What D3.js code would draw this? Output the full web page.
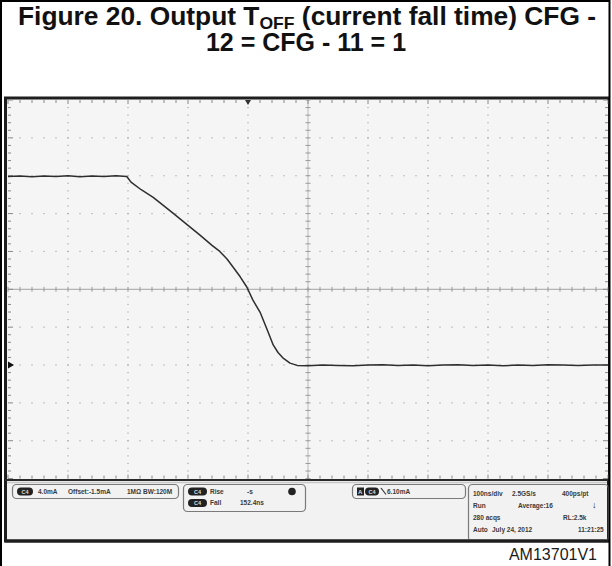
<!DOCTYPE html>
<html><head><meta charset="utf-8">
<script src="https://cdn.jsdelivr.net/npm/d3@7"></script>
<style>html,body{margin:0;padding:0;background:#fff;}svg{display:block;}</style>
</head><body>
<svg id="c" width="612" height="566"></svg>
<script>
// ---- data (time in ns, current in divisions, 4.0 mA/div) ----
const timeNs = [-500,-480,-460,-440,-420,-400,-380,-360,-340,-320,-302,-295,-278,-258,-225,-200,-180,-160,-147,-135,-125,-113,-102,-92,-80,-68,-58,-50,-42,-30,-18,
  0,25,50,75,100,125,150,175,200,225,250,275,300,325,350,375,400,425,450,475,500];
const currentDiv = [2.98,2.99,2.97,2.99,2.98,3.0,2.97,2.99,2.98,3.0,2.98,2.83,2.63,2.43,2.01,1.69,1.43,1.16,1.0,0.80,0.59,0.33,0.06,-0.28,-0.60,-1.07,-1.47,-1.67,-1.81,-1.95,-2.01,
  -2.02,-2.0,-2.01,-2.02,-2.0,-1.99,-2.01,-2.0,-2.02,-2.0,-1.99,-2.01,-2.0,-2.02,-2.0,-2.01,-1.99,-2.0,-2.01,-2.0,-2.0];
const xTicksNs = d3.range(-500, 501, 100);
const yTicksDiv = d3.range(-5, 6, 1);

const titleLine1a = "Figure 20. Output T";
const titleSub = "OFF";
const titleLine1b = " (current fall time) CFG -";
const titleLine2 = "12 = CFG - 11 = 1";
const figureId = "AM13701V1";

const chLabel = "C4";
const box1Texts = [["4.0mA",38],["Offset:-1.5mA",68],["1MΩ",127],["BW:120M",143]];
const measRows = [["Rise","-s"],["Fall","152.4ns"]];
const trigLevel = "6.10mA";
const infoRows = [
  [["100ns/div",473],["2.5GS/s",512],["400ps/pt",562]],
  [["Run",473],["Average:16",518],["↓",592]],
  [["280 acqs",473],["RL:2.5k",563]],
  [["Auto",473],["July 24, 2012",492],["11:21:25",578]]
];

// ---- drawing ----
const svg = d3.select("#c");
const FONT = "'Liberation Sans', Arial, Helvetica, sans-serif";

svg.append("rect").attr("width",612).attr("height",566).attr("fill","#fff");

// title
const t1 = svg.append("text").attr("x",18).attr("y",25).attr("text-anchor","start")
  .attr("font-family",FONT).attr("font-weight","bold").attr("font-size",25.5).attr("fill","#111")
  .attr("textLength",578).attr("lengthAdjust","spacingAndGlyphs");
t1.append("tspan").text(titleLine1a);
t1.append("tspan").attr("font-size",17).attr("dy",4).text(titleSub);
t1.append("tspan").attr("dy",-4).text(titleLine1b);
svg.append("text").attr("x",306).attr("y",51).attr("text-anchor","middle")
  .attr("font-family",FONT).attr("font-weight","bold").attr("font-size",25).attr("fill","#111")
  .text(titleLine2);

// scope screen
svg.append("rect").attr("x",5.5).attr("y",98).attr("width",603).attr("height",443)
  .attr("fill","#f2f2f2").attr("stroke","#1e1e1e").attr("stroke-width",3);

const x = d3.scaleLinear().domain([-500,500]).range([8,608]);
const y = d3.scaleLinear().domain([-5,5]).range([478.6,100]);

svg.append("rect").attr("x",8).attr("y",100).attr("width",600).attr("height",378.6).attr("fill","#f5f5f5");

const g = svg.append("g");
const subX = d3.range(-500, 501, 20);
const subY = d3.range(-50, 51, 2).map(v => v/10);

yTicksDiv.filter(v => v!==0 && Math.abs(v)!==5).forEach(v => {
  g.selectAll(null).data(subX.filter(s => Math.abs(s)!==500)).join("rect")
    .attr("x", d => x(d)-0.6).attr("y", y(v)-0.6).attr("width",1.2).attr("height",1.2).attr("fill","#a8a8a8");
});
xTicksNs.filter(v => v!==0 && Math.abs(v)!==500).forEach(v => {
  g.selectAll(null).data(subY.filter(s => Math.abs(s)!==5)).join("rect")
    .attr("x", x(v)-0.6).attr("y", d => y(d)-0.6).attr("width",1.2).attr("height",1.2).attr("fill","#a8a8a8");
});
g.append("line").attr("x1",x(-500)).attr("x2",x(500)).attr("y1",y(0)).attr("y2",y(0)).attr("stroke","#b4b4b4").attr("stroke-width",1.2);
g.append("line").attr("x1",x(0)).attr("x2",x(0)).attr("y1",y(-5)).attr("y2",y(5)).attr("stroke","#c4c4c4").attr("stroke-width",1.2);
g.selectAll(null).data(subX).join("line")
  .attr("x1",d=>x(d)).attr("x2",d=>x(d)).attr("y1",y(0)-2.5).attr("y2",y(0)+2.5).attr("stroke","#999").attr("stroke-width",1);
g.selectAll(null).data(subY).join("line")
  .attr("y1",d=>y(d)).attr("y2",d=>y(d)).attr("x1",x(0)-2.5).attr("x2",x(0)+2.5).attr("stroke","#999").attr("stroke-width",1);
g.selectAll(null).data(subX).join("line")
  .attr("x1",d=>x(d)).attr("x2",d=>x(d)).attr("y1",y(5)).attr("y2",d=> y(5)+ (d%100===0?4:3)).attr("stroke","#888");
g.selectAll(null).data(subX).join("line")
  .attr("x1",d=>x(d)).attr("x2",d=>x(d)).attr("y1",y(-5)).attr("y2",d=> y(-5)-(d%100===0?4:3)).attr("stroke","#888");
g.selectAll(null).data(subY).join("line")
  .attr("y1",d=>y(d)).attr("y2",d=>y(d)).attr("x1",x(-500)).attr("x2",d=>x(-500)+(Math.abs(d%1)<1e-6?5:3)).attr("stroke","#888");
g.selectAll(null).data(subY).join("line")
  .attr("y1",d=>y(d)).attr("y2",d=>y(d)).attr("x1",x(500)).attr("x2",d=>x(500)-(Math.abs(d%1)<1e-6?5:3)).attr("stroke","#888");

const pts = timeNs.map((t,i)=>[t,currentDiv[i]]);
g.append("path").datum(pts)
  .attr("d", d3.line().x(d=>x(d[0])).y(d=>y(d[1])))
  .attr("fill","none").attr("stroke","#2e2e2e").attr("stroke-width",1.5).attr("stroke-linejoin","round");

const gy = y(-2);
g.append("path").attr("d",`M8,${gy-3.5}L14,${gy}L8,${gy+3.5}Z`).attr("fill","#111");
const tx = x(-100);
g.append("path").attr("d",`M${tx-3},100L${tx+3},100L${tx},105Z`).attr("fill","#333");

svg.append("line").attr("x1",5).attr("x2",608).attr("y1",480).attr("y2",480).attr("stroke","#2a2a2a").attr("stroke-width",2);
svg.append("line").attr("x1",7).attr("x2",607).attr("y1",482.5).attr("y2",482.5).attr("stroke","#c8c8c8").attr("stroke-width",1.5);

const sb = svg.append("g").attr("font-family",FONT).attr("font-weight","bold").attr("font-size",6.5).attr("fill","#3a3a3a");
function box(x0,y0,w,h){ sb.append("rect").attr("x",x0).attr("y",y0).attr("width",w).attr("height",h).attr("rx",4)
  .attr("fill","none").attr("stroke","#7a7a7a").attr("stroke-width",1.2); }
function pill(x0,cy,w){ sb.append("rect").attr("x",x0).attr("y",cy-4).attr("width",w).attr("height",8).attr("rx",4).attr("fill","#222");
  sb.append("text").attr("x",x0+w/2).attr("y",cy+2.2).attr("text-anchor","middle").attr("fill","#ddd").attr("font-size",5.5).text(chLabel); }

box(12.5,484.5,166,14);
pill(17,491.5,16);
box1Texts.forEach(([s,xx])=> sb.append("text").attr("x",xx).attr("y",494).text(s));

box(183.5,484.5,122,27);
measRows.forEach(([n,v],i)=>{
  const cy = 491.5 + i*11.5;
  pill(188,cy,19);
  sb.append("text").attr("x",210).attr("y",cy+2.4).text(n);
  sb.append("text").attr("x", i===0?247:240).attr("y",cy+2.4).text(v);
});
sb.append("circle").attr("cx",292).attr("cy",491.5).attr("r",3.8).attr("fill","#222");

box(352.5,484.5,113,14);
sb.append("rect").attr("x",357).attr("y",487.5).attr("width",7).attr("height",8).attr("fill","#222");
sb.append("text").attr("x",358).attr("y",494).attr("fill","#ddd").attr("font-size",6).text("A");
pill(365,491.5,14);
sb.append("path").attr("d","M381,488L386,494.5").attr("stroke","#333").attr("stroke-width",1.2);
sb.append("text").attr("x",387).attr("y",494).text(trigLevel);

box(468.5,484.5,140,57);
infoRows.forEach((row,i)=>{
  row.forEach(([s,xx])=> sb.append("text").attr("x",xx).attr("y",495.5+i*12.3)
    .attr("font-size", s==="↓"?9:6.5).attr("fill", s==="↓"?"#111":"#3a3a3a").text(s));
});

svg.append("line").attr("x1",5).attr("x2",609).attr("y1",541).attr("y2",541).attr("stroke","#1e1e1e").attr("stroke-width",3);

svg.append("text").attr("x",597).attr("y",560).attr("text-anchor","end")
  .attr("font-family",FONT).attr("font-size",16).attr("fill","#1a1a1a").text(figureId);

svg.append("line").attr("x1",1).attr("x2",1).attr("y1",0).attr("y2",566).attr("stroke","#000").attr("stroke-width",2);
svg.append("line").attr("x1",609.5).attr("x2",609.5).attr("y1",0).attr("y2",566).attr("stroke","#000").attr("stroke-width",2);
svg.append("line").attr("x1",0).attr("x2",610).attr("y1",1).attr("y2",1).attr("stroke","#000").attr("stroke-width",2);
</script>
</body></html>
